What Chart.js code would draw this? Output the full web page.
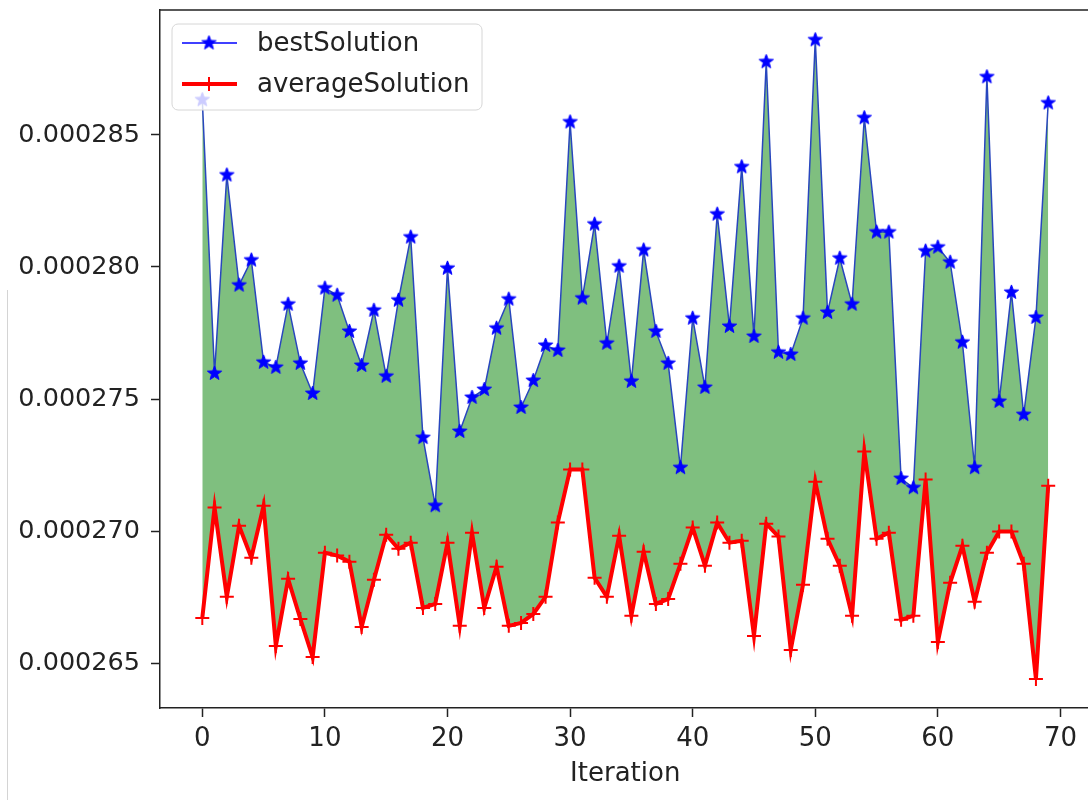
<!DOCTYPE html>
<html>
<head>
<meta charset="utf-8">
<title>bestSolution / averageSolution</title>
<script src="https://cdn.jsdelivr.net/npm/chart.js@4.4.0/dist/chart.umd.min.js"></script>
<style>
  html, body { margin: 0; padding: 0; background: #fff; overflow: hidden; }
  #wrap { position: relative; width: 1100px; height: 800px; }
  #edge { position: absolute; left: 7px; top: 290px; width: 1px; height: 510px; background: #d4d4d4; }
</style>
</head>
<body>
<div id="wrap">
  <canvas id="solution-chart" width="1100" height="800"></canvas>
  <div id="edge"></div>
</div>
<script>
  'use strict';

  // values
  const iterations = [
    0, 1, 2, 3, 4, 5, 6, 7, 8, 9, 10, 11, 12, 13, 14, 15, 16, 17, 18, 19,
    20, 21, 22, 23, 24, 25, 26, 27, 28, 29, 30, 31, 32, 33, 34, 35, 36, 37, 38, 39,
    40, 41, 42, 43, 44, 45, 46, 47, 48, 49, 50, 51, 52, 53, 54, 55, 56, 57, 58, 59,
    60, 61, 62, 63, 64, 65, 66, 67, 68, 69
  ];

  const bestSolution = [
    0.00028633, 0.00027597, 0.00028348, 0.00027931, 0.00028026, 0.00027639, 0.00027620, 0.00027859, 0.00027635, 0.00027521,
    0.00027920, 0.00027893, 0.00027756, 0.00027627, 0.00027836, 0.00027586, 0.00027874, 0.00028113, 0.00027354, 0.00027096,
    0.00027995, 0.00027377, 0.00027506, 0.00027536, 0.00027768, 0.00027878, 0.00027468, 0.00027570, 0.00027703, 0.00027684,
    0.00028549, 0.00027882, 0.00028162, 0.00027711, 0.00028003, 0.00027567, 0.00028064, 0.00027756, 0.00027635, 0.00027240,
    0.00027806, 0.00027544, 0.00028200, 0.00027775, 0.00028379, 0.00027737, 0.00028777, 0.00027677, 0.00027669, 0.00027806,
    0.00028860, 0.00027828, 0.00028033, 0.00027859, 0.00028565, 0.00028132, 0.00028132, 0.00027199, 0.00027164, 0.00028060,
    0.00028075, 0.00028018, 0.00027715, 0.00027240, 0.00028720, 0.00027491, 0.00027904, 0.00027441, 0.00027809, 0.00028621
  ];

  const averageSolution = [
    0.00026671, 0.00027089, 0.00026751, 0.00027020, 0.00026899, 0.00027096, 0.00026565, 0.00026819, 0.00026667, 0.00026523,
    0.00026918, 0.00026907, 0.00026884, 0.00026637, 0.00026816, 0.00026986, 0.00026933, 0.00026956, 0.00026709, 0.00026724,
    0.00026956, 0.00026641, 0.00026994, 0.00026709, 0.00026865, 0.00026641, 0.00026652, 0.00026686, 0.00026751, 0.00027032,
    0.00027233, 0.00027233, 0.00026823, 0.00026751, 0.00026982, 0.00026679, 0.00026922, 0.00026724, 0.00026743, 0.00026876,
    0.00027013, 0.00026869, 0.00027032, 0.00026956, 0.00026963, 0.00026603, 0.00027028, 0.00026979, 0.00026550, 0.00026797,
    0.00027187, 0.00026971, 0.00026869, 0.00026679, 0.00027301, 0.00026971, 0.00026994, 0.00026664, 0.00026679, 0.00027195,
    0.00026580, 0.00026804, 0.00026944, 0.00026732, 0.00026918, 0.00026998, 0.00026998, 0.00026876, 0.00026440, 0.00027172
  ];

  const xTicks = [0, 10, 20, 30, 40, 50, 60, 70];
  const yTicks = [0.000265, 0.00027, 0.000275, 0.00028, 0.000285];

  const fontFamily = '"DejaVu Sans", sans-serif';
  const fontSize = 26;
  const yFontSize = 25.5;
  const inkColor = '#222';

  // matplotlib-like five point star marker
  function makeStar(size, color) {
    const c = document.createElement('canvas');
    c.width = size;
    c.height = size;
    const g = c.getContext('2d');
    const cx = size / 2, cy = size / 2, R = size / 2 - 1, r = R * 0.42;
    g.beginPath();
    for (let k = 0; k < 10; k++) {
      const rad = k % 2 ? r : R;
      const a = -Math.PI / 2 + k * Math.PI / 5;
      g.lineTo(cx + rad * Math.cos(a), cy + rad * Math.sin(a));
    }
    g.closePath();
    g.fillStyle = color;
    g.fill();
    g.strokeStyle = color;
    g.lineWidth = 1;
    g.stroke();
    return c;
  }

  const starMarker = makeStar(17, '#0000ff');

  const toPoints = (ys) => iterations.map((x, i) => ({ x: x, y: ys[i] }));

  // top / right spines
  const framePlugin = {
    id: 'frame',
    afterDraw(chart) {
      const { ctx, chartArea } = chart;
      ctx.save();
      ctx.strokeStyle = inkColor;
      ctx.lineWidth = 1.5;
      ctx.beginPath();
      ctx.moveTo(chartArea.left, chartArea.top);
      ctx.lineTo(chartArea.right, chartArea.top);
      ctx.lineTo(chartArea.right, chartArea.bottom);
      ctx.stroke();
      ctx.restore();
    }
  };

  // legend box in the upper left corner, drawn over the data
  const legendPlugin = {
    id: 'boxLegend',
    afterDatasetsDraw(chart) {
      const { ctx } = chart;
      const x0 = 172, y0 = 24, w = 310, h = 86, rr = 6;
      ctx.save();
      ctx.beginPath();
      ctx.moveTo(x0 + rr, y0);
      ctx.arcTo(x0 + w, y0, x0 + w, y0 + h, rr);
      ctx.arcTo(x0 + w, y0 + h, x0, y0 + h, rr);
      ctx.arcTo(x0, y0 + h, x0, y0, rr);
      ctx.arcTo(x0, y0, x0 + w, y0, rr);
      ctx.closePath();
      ctx.fillStyle = 'rgba(255,255,255,0.8)';
      ctx.fill();
      ctx.strokeStyle = '#d6d6d6';
      ctx.lineWidth = 1;
      ctx.stroke();

      const rows = [43, 84];
      chart.data.datasets.forEach((ds, i) => {
        const y = rows[i];
        ctx.strokeStyle = ds.legendColor;
        ctx.lineWidth = ds.borderWidth;
        ctx.beginPath();
        ctx.moveTo(182, y);
        ctx.lineTo(237, y);
        ctx.stroke();
        if (ds.pointStyle === 'cross') {
          ctx.lineWidth = ds.pointBorderWidth;
          ctx.beginPath();
          ctx.moveTo(209, y - ds.pointRadius);
          ctx.lineTo(209, y + ds.pointRadius);
          ctx.stroke();
        } else {
          ctx.drawImage(ds.pointStyle, 209 - ds.pointStyle.width / 2, y - ds.pointStyle.height / 2);
        }
        ctx.fillStyle = inkColor;
        ctx.font = fontSize + 'px ' + fontFamily;
        ctx.textBaseline = 'middle';
        ctx.textAlign = 'left';
        ctx.fillText(ds.label, 257, y + 1);
      });
      ctx.restore();
    }
  };

  const axisBits = {
    grid: { drawOnChartArea: false, drawTicks: true, tickLength: 9, tickColor: inkColor, tickWidth: 1.5 },
    border: { display: true, color: inkColor, width: 1.5 }
  };

  function noEdgePadding(s) {
    s.paddingTop = 0;
    s.paddingBottom = 0;
    s.paddingLeft = 0;
    s.paddingRight = 0;
  }

  const ctx = document.getElementById('solution-chart');
  new Chart(ctx, {
    type: 'line',
    data: {
      datasets: [{
        label: 'bestSolution',
        data: toPoints(bestSolution),
        borderColor: 'rgb(40,70,190)',
        legendColor: '#0000ff',
        borderWidth: 1.5,
        backgroundColor: 'rgba(0,128,0,0.5)',
        fill: 1,
        pointStyle: starMarker,
        pointRadius: 8,
        tension: 0,
        order: 2
      }, {
        label: 'averageSolution',
        data: toPoints(averageSolution),
        borderColor: '#ff0000',
        legendColor: '#ff0000',
        borderWidth: 4,
        backgroundColor: '#ff0000',
        fill: false,
        pointStyle: 'cross',
        pointRadius: 7,
        pointBorderWidth: 2,
        pointBorderColor: '#ff0000',
        tension: 0,
        order: 1
      }]
    },
    options: {
      responsive: false,
      animation: false,
      events: [],
      layout: { padding: { top: 10, right: 6, left: 0, bottom: 0 } },
      scales: {
        x: {
          type: 'linear',
          min: -3.45,
          max: 72.45,
          afterFit: (s) => { s.height = 92; noEdgePadding(s); },
          afterBuildTicks: (s) => { s.ticks = xTicks.map(v => ({ value: v })); },
          ticks: { color: inkColor, font: { family: fontFamily, size: fontSize }, padding: 7, maxRotation: 0 },
          title: {
            display: true,
            text: 'Iteration',
            color: inkColor,
            font: { family: fontFamily, size: fontSize },
            padding: { top: 0, bottom: 10 }
          },
          ...axisBits
        },
        y: {
          min: 0.00026330,
          max: 0.00028973,
          afterFit: (s) => { s.width = 160; noEdgePadding(s); },
          afterBuildTicks: (s) => { s.ticks = yTicks.map(v => ({ value: v })); },
          ticks: {
            color: inkColor,
            font: { family: fontFamily, size: yFontSize },
            padding: 11,
            callback: (v) => v.toFixed(6)
          },
          ...axisBits
        }
      },
      plugins: {
        legend: { display: false },
        tooltip: { enabled: false }
      }
    },
    plugins: [framePlugin, legendPlugin]
  });
</script>
</body>
</html>
